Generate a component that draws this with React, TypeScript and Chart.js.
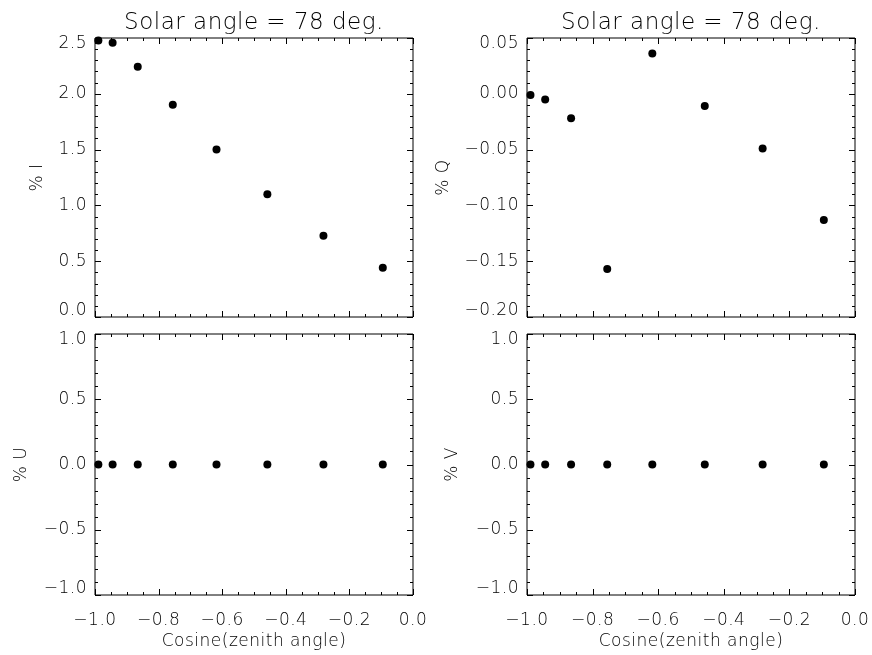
import React, { useEffect, useRef } from "react";
import { Chart, registerables } from "chart.js";

Chart.register(...registerables);

// ---- data ----
const COS_ZENITH = [-0.9894, -0.9446, -0.8656, -0.7554, -0.6179, -0.458, -0.2816, -0.095];
const PCT_I = [2.478, 2.457, 2.242, 1.901, 1.501, 1.099, 0.728, 0.442];
const PCT_Q = [-0.001, -0.005, -0.022, -0.157, 0.036, -0.011, -0.049, -0.113];
const PCT_U = [0, 0, 0, 0, 0, 0, 0, 0];
const PCT_V = [0, 0, 0, 0, 0, 0, 0, 0];

const X_TICKS = [-1.0, -0.8, -0.6, -0.4, -0.2, 0.0];
const I_TICKS = [0.0, 0.5, 1.0, 1.5, 2.0, 2.5];
const Q_TICKS = [-0.2, -0.15, -0.1, -0.05, 0.0, 0.05];
const UV_TICKS = [-1.0, -0.5, 0.0, 0.5, 1.0];

const TITLE = "Solar angle = 78 deg.";
const X_LABEL = "Cosine(zenith angle)";

const FONT = "'DejaVu Sans', sans-serif";
const W = 872;
const H = 655;

type Panel = {
  yLabel: string;
  values: number[];
  yTicks: number[];
  decimals: number;
  area: { l: number; t: number; r: number; b: number };
  yTitleX: number;
  top: boolean;
};

const PANELS: Panel[] = [
  { yLabel: "% I", values: PCT_I, yTicks: I_TICKS, decimals: 1, area: { l: 95, t: 38, r: 413, b: 317 }, yTitleX: 38, top: true },
  { yLabel: "% Q", values: PCT_Q, yTicks: Q_TICKS, decimals: 2, area: { l: 527, t: 38, r: 855, b: 317 }, yTitleX: 444, top: true },
  { yLabel: "% U", values: PCT_U, yTicks: UV_TICKS, decimals: 1, area: { l: 95, t: 334, r: 413, b: 595 }, yTitleX: 22, top: false },
  { yLabel: "% V", values: PCT_V, yTicks: UV_TICKS, decimals: 1, area: { l: 527, t: 334, r: 855, b: 595 }, yTitleX: 453, top: false },
];

const fmt = (v: number, d: number) => {
  const s = Math.abs(v).toFixed(d);
  return v < -1e-9 ? "\u2212" + s : s;
};

const minors = (majors: number[], sub: number) => {
  const out: number[] = [];
  for (let i = 0; i < majors.length - 1; i++) {
    const a = majors[i];
    const b = majors[i + 1];
    for (let k = 1; k < sub; k++) out.push(a + ((b - a) * k) / sub);
  }
  return out;
};

const spacing = {
  id: "spacing",
  beforeUpdate(chart: any) {
    chart.ctx.letterSpacing = "0.5px";
  },
  beforeDraw(chart: any) {
    chart.ctx.letterSpacing = "0.5px";
    // keep end labels of the y axis inside the plot range
    const y = chart.scales.y;
    const items = y.getLabelItems();
    if (!y._shifted && items.length > 1) {
      items[0].options.translation[1] -= 6;
      items[items.length - 1].options.translation[1] += 6;
      y._shifted = true;
    }
  },
};

const idlFrame = {
  id: "idlFrame",
  beforeDatasetsDraw(chart: any, _args: any, opts: any) {
    const { ctx, chartArea } = chart;
    const { left, top, right, bottom } = chartArea;
    const x = chart.scales.x;
    const y = chart.scales.y;
    ctx.save();
    ctx.strokeStyle = "#000";
    ctx.lineWidth = 1;
    ctx.beginPath();
    ctx.rect(left, top, right - left, bottom - top);
    ctx.stroke();
    const drawX = (vals: number[], len: number) => {
      vals.forEach((v) => {
        const px = Math.round(x.getPixelForValue(v)) + 0.5;
        ctx.beginPath();
        ctx.moveTo(px, bottom);
        ctx.lineTo(px, bottom - len);
        ctx.moveTo(px, top);
        ctx.lineTo(px, top + len);
        ctx.stroke();
      });
    };
    const drawY = (vals: number[], len: number) => {
      vals.forEach((v) => {
        const py = Math.round(y.getPixelForValue(v)) + 0.5;
        ctx.beginPath();
        ctx.moveTo(left, py);
        ctx.lineTo(left + len, py);
        ctx.moveTo(right, py);
        ctx.lineTo(right - len, py);
        ctx.stroke();
      });
    };
    drawX(opts.xMajor, 6);
    drawX(minors(opts.xMajor, 4), 3);
    drawY(opts.yMajor, 6);
    drawY(minors(opts.yMajor, 5), 3);
    ctx.restore();
  },
};

function PanelChart({ p }: { p: Panel }) {
  const ref = useRef<HTMLCanvasElement>(null);
  useEffect(() => {
    if (!ref.current) return;
    const { l, t, r, b } = p.area;
    const padLeft = p.yTitleX - 10.2;
    const yMin = p.yTicks[0];
    const yMax = p.yTicks[p.yTicks.length - 1];
    const chart = new Chart(ref.current, {
      type: "scatter",
      data: {
        datasets: [
          {
            data: COS_ZENITH.map((cx, i) => ({ x: cx, y: p.values[i] })),
            backgroundColor: "#000",
            borderColor: "#000",
            pointRadius: 4,
            pointHoverRadius: 4,
            borderWidth: 0,
            clip: false as any,
          },
        ],
      },
      plugins: [spacing, idlFrame],
      options: {
        responsive: false,
        animation: false,
        devicePixelRatio: 1,
        events: [],
        layout: {
          padding: {
            left: padLeft,
            right: W - r,
            top: p.top ? 0 : t,
            bottom: p.top ? H - b : 0,
          },
        },
        plugins: {
          legend: { display: false },
          tooltip: { enabled: false },
          title: {
            display: p.top,
            text: TITLE,
            fullSize: false,
            color: "#000",
            font: { family: FONT, size: 23, weight: "200" as any, lineHeight: 1.2 },
            padding: { top: 9, bottom: 1.4 },
          },
          idlFrame: { xMajor: X_TICKS, yMajor: p.yTicks },
        } as any,
        scales: {
          x: {
            type: "linear",
            min: -1,
            max: 0,
            display: !p.top,
            grid: { display: false, drawTicks: false, tickLength: 0 },
            border: { display: false },
            afterBuildTicks: (s: any) => {
              s.ticks = X_TICKS.map((v) => ({ value: v }));
            },
            afterFit: (s: any) => {
              if (!p.top) s.height = H - b;
              s.paddingLeft = 0;
              s.paddingRight = 0;
            },
            ticks: {
              padding: 15,
              color: "#000",
              maxRotation: 0,
              autoSkip: false,
              font: { family: FONT, size: 17, weight: "200" as any },
              callback: (v: any) => fmt(Number(v), 1),
            },
            title: {
              display: true,
              text: X_LABEL,
              color: "#000",
              font: { family: FONT, size: 17, weight: "200" as any, lineHeight: 1.2 },
              padding: { top: 0, bottom: 3 },
            },
          },
          y: {
            type: "linear",
            min: yMin,
            max: yMax,
            grid: { display: false, drawTicks: false, tickLength: 0 },
            border: { display: false },
            afterBuildTicks: (s: any) => {
              s.ticks = p.yTicks.map((v) => ({ value: v }));
            },
            afterFit: (s: any) => {
              s.width = l - padLeft;
              s.paddingTop = 0;
              s.paddingBottom = 0;
            },
            ticks: {
              padding: 8,
              color: "#000",
              autoSkip: false,
              font: { family: FONT, size: 17, weight: "200" as any },
              callback: (v: any) => fmt(Number(v), p.decimals),
            },
            title: {
              display: true,
              text: p.yLabel,
              color: "#000",
              font: { family: FONT, size: 17, weight: "200" as any, lineHeight: 1.2 },
              padding: { top: 0, bottom: 0 },
            },
          },
        },
      } as any,
    });
    return () => chart.destroy();
  }, [p]);
  return (
    <canvas
      ref={ref}
      width={W}
      height={H}
      style={{ position: "absolute", left: 0, top: 0, width: W, height: H }}
    />
  );
}

export default function App() {
  return (
    <div style={{ position: "absolute", left: 0, top: 0, width: W, height: H, background: "#fff" }}>
      {PANELS.map((p, i) => (
        <PanelChart key={i} p={p} />
      ))}
    </div>
  );
}
